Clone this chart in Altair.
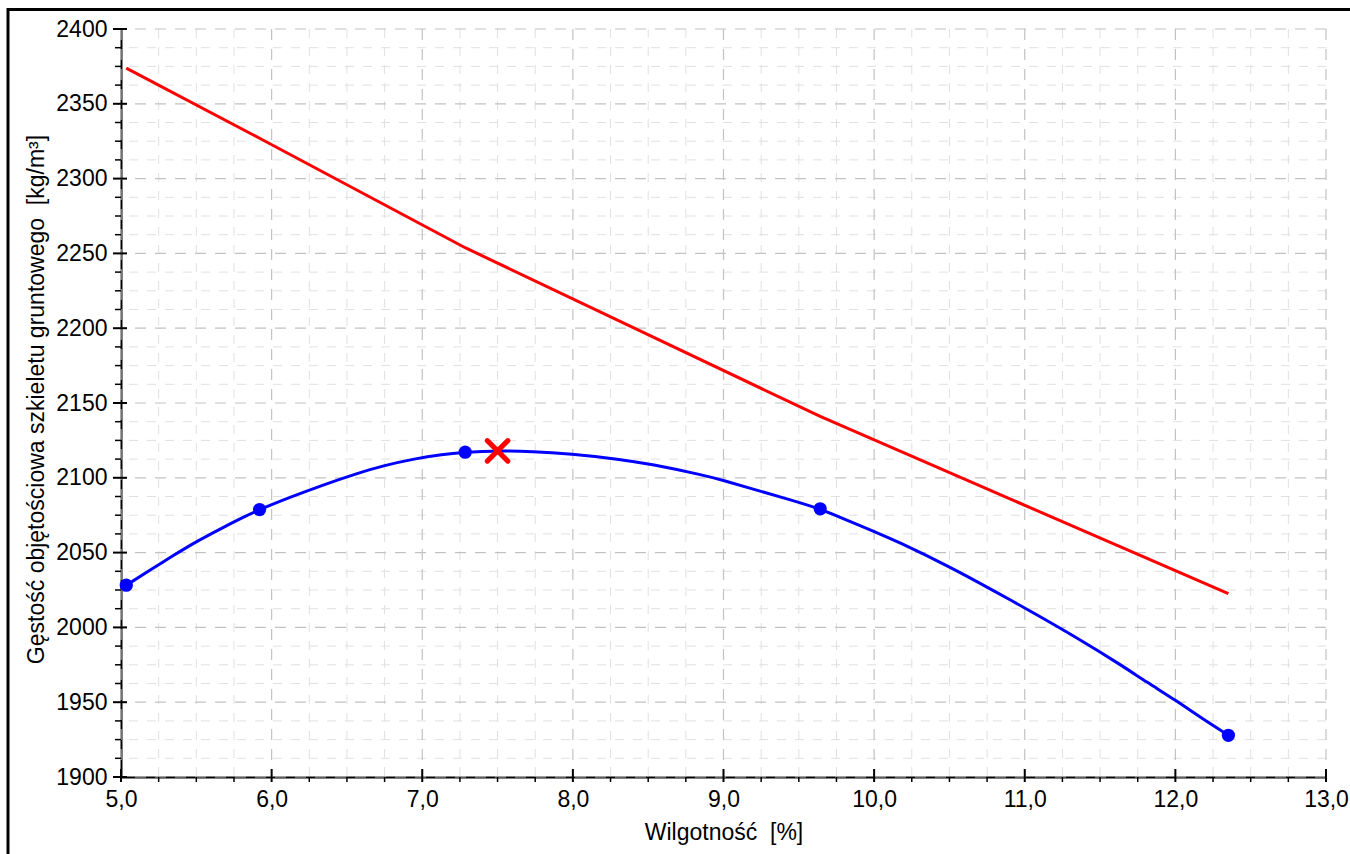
import altair as alt
import pandas as pd

# ---- data ----
pts_w = [5.035, 5.92, 7.285, 9.642, 12.352]
pts_rho = [2028.2, 2078.8, 2117.1, 2079.3, 1927.9]

curve_w = [5.035, 5.183, 5.349, 5.504, 5.670, 5.803, 5.920, 6.113, 6.334, 6.577,
           6.733, 6.954, 7.131, 7.285, 7.385, 7.550, 7.717, 7.983, 8.314, 8.514,
           8.867, 9.000, 9.199, 9.421, 9.642, 9.797, 9.985, 10.151, 10.505, 10.792,
           11.058, 11.346, 11.633, 11.810, 12.010, 12.164, 12.352]
curve_rho = [2028.2, 2037.6, 2048.2, 2057.6, 2066.4, 2073.2, 2078.8, 2086.6, 2095.0, 2103.2,
             2107.9, 2112.9, 2115.5, 2117.1, 2117.7, 2118.0, 2117.7, 2116.0, 2112.4, 2109.2,
             2101.8, 2098.2, 2092.4, 2085.9, 2079.3, 2072.6, 2064.8, 2057.6, 2040.4, 2024.6,
             2009.8, 1993.1, 1975.3, 1963.4, 1950.8, 1939.9, 1927.9]

sat_w = [5.035, 5.92, 7.285, 9.642, 12.352]
sat_rho = [2373.8, 2327.0, 2253.8, 2141.0, 2022.5]

opt_w = [7.50]
opt_rho = [2118.0]

x_major = [5.0, 6.0, 7.0, 8.0, 9.0, 10.0, 11.0, 12.0, 13.0]
x_minor = [5.25, 5.5, 5.75, 6.25, 6.5, 6.75, 7.25, 7.5, 7.75, 8.25, 8.5, 8.75,
           9.25, 9.5, 9.75, 10.25, 10.5, 10.75, 11.25, 11.5, 11.75, 12.25, 12.5, 12.75]
y_major = [1900, 1950, 2000, 2050, 2100, 2150, 2200, 2250, 2300, 2350, 2400]
y_minor = [1912.5, 1925, 1937.5, 1962.5, 1975, 1987.5, 2012.5, 2025, 2037.5,
           2062.5, 2075, 2087.5, 2112.5, 2125, 2137.5, 2162.5, 2175, 2187.5,
           2212.5, 2225, 2237.5, 2262.5, 2275, 2287.5, 2312.5, 2325, 2337.5,
           2362.5, 2375, 2387.5]

X_TITLE = "Wilgotność\u00a0\u00a0[%]"
Y_TITLE = "Gęstość objętościowa szkieletu gruntowego\u00a0\u00a0[kg/m³]"

W, H = 1205, 748
FONT = "Liberation Sans"

xscale = alt.Scale(domain=[5, 13], nice=False, zero=False)
yscale = alt.Scale(domain=[1900, 2400], nice=False, zero=False)

curve_df = pd.DataFrame({"w": curve_w, "rho": curve_rho})
pts_df = pd.DataFrame({"w": pts_w, "rho": pts_rho})
sat_df = pd.DataFrame({"w": sat_w, "rho": sat_rho})
opt_df = pd.DataFrame({"w": opt_w, "rho": opt_rho})
xmaj_df = pd.DataFrame({"w": x_major})
xmin_df = pd.DataFrame({"w": x_minor})
ymaj_df = pd.DataFrame({"rho": y_major})
ymin_df = pd.DataFrame({"rho": y_minor})

x_axis = alt.Axis(
    values=x_major, grid=False, ticks=False, domainColor="black", domainWidth=2,
    labelExpr="replace(format(datum.value, '.1f'), '.', ',')",
    labelFont=FONT, labelFontSize=23, labelColor="black", labelPadding=11,
    labelFlush=False, labelOverlap=False,
    title=X_TITLE, titleFont=FONT, titleFontSize=23, titleFontWeight="normal",
    titleColor="black", titleY=62, titleX=W / 2, titleBaseline="alphabetic",
)
y_axis = alt.Axis(
    values=y_major, grid=False, ticks=False, domainColor="black", domainWidth=2,
    format="d", labelFont=FONT, labelFontSize=23, labelColor="black", labelPadding=14,
    labelFlush=False, labelOverlap=False,
    title=Y_TITLE, titleFont=FONT,
    titleFontSize=23, titleFontWeight="normal", titleColor="black",
    titleAngle=270, titleX=-78, titleY=H / 2 - 4, titleBaseline="alphabetic", titleAlign="center",
)

X = alt.X("w:Q", scale=xscale, axis=x_axis, title=X_TITLE)
Y = alt.Y("rho:Q", scale=yscale, axis=y_axis, title=Y_TITLE)

# grid
gx_minor = alt.Chart(xmin_df).mark_rule(color="#e0e0e0", strokeWidth=1, strokeDash=[9, 9]).encode(x=X)
gy_minor = alt.Chart(ymin_df).mark_rule(color="#e0e0e0", strokeWidth=1, strokeDash=[9, 9]).encode(y=Y)
gx_major = alt.Chart(xmaj_df).mark_rule(color="#c2c2c2", strokeWidth=1.2, strokeDash=[11, 9]).encode(x=X)
gy_major = alt.Chart(ymaj_df).mark_rule(color="#c2c2c2", strokeWidth=1.2, strokeDash=[11, 9]).encode(y=Y)

# tick marks
tx_major = alt.Chart(xmaj_df).mark_rule(color="black", strokeWidth=2).encode(
    x=X, y=alt.value(H - 8), y2=alt.value(H + 5))
tx_minor = alt.Chart(xmin_df).mark_rule(color="black", strokeWidth=1.5).encode(
    x=X, y=alt.value(H), y2=alt.value(H + 5))
ty_major = alt.Chart(ymaj_df).mark_rule(color="black", strokeWidth=2).encode(
    y=Y, x=alt.value(-8), x2=alt.value(6))
ty_minor = alt.Chart(ymin_df).mark_rule(color="black", strokeWidth=1.5).encode(
    y=Y, x=alt.value(-6), x2=alt.value(0))

sat = alt.Chart(sat_df).mark_line(color="#ff0000", strokeWidth=3).encode(x=X, y=Y)
curve = alt.Chart(curve_df).mark_line(color="#0000ff", strokeWidth=3, interpolate="basis").encode(x=X, y=Y)
pts = alt.Chart(pts_df).mark_point(filled=True, color="#0000ff", size=175, opacity=1).encode(x=X, y=Y)
opt = alt.Chart(opt_df).mark_point(
    shape="M-1,-1L1,1M-1,1L1,-1", filled=False, color="#ff0000", size=420,
    strokeWidth=5, strokeCap="round", opacity=1).encode(x=X, y=Y)

# outer frame (top and left edges visible in the reference)
frame_top = alt.Chart(opt_df).mark_rule(color="black", strokeWidth=3, clip=False).encode(
    x=alt.value(-113), x2=alt.value(1240), y=alt.value(-19.5))
frame_left = alt.Chart(opt_df).mark_rule(color="black", strokeWidth=3, clip=False).encode(
    x=alt.value(-113), y=alt.value(-21), y2=alt.value(840))

chart = alt.layer(
    gx_minor, gy_minor, gx_major, gy_major, sat, curve, pts, opt,
    tx_major, tx_minor, ty_major, ty_minor, frame_top, frame_left,
).properties(
    width=W, height=H,
    autosize=alt.AutoSizeParams(type="none"),
    padding={"left": 121, "top": 29, "right": 24, "bottom": 77},
    background="white",
).configure_view(strokeWidth=0)

chart.save("out.html", embed_options={"renderer": "svg", "actions": False})
